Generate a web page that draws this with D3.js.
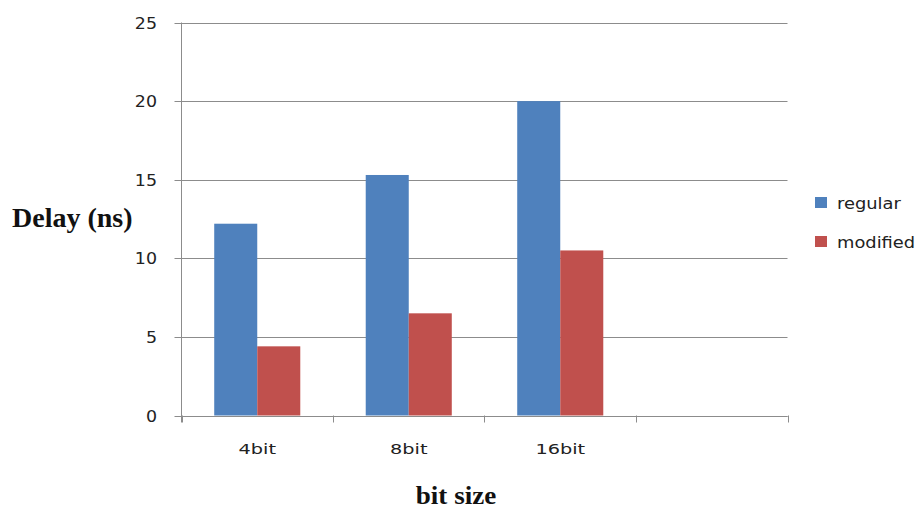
<!DOCTYPE html>
<html><head><meta charset="utf-8">
<script src="https://cdn.jsdelivr.net/npm/d3@7"></script>
<style>body{margin:0;background:#fff}svg{display:block}</style>
</head><body>
<svg id="c" width="920" height="511"></svg>
<script>
const categories = ["4bit", "8bit", "16bit", ""];
const seriesNames = ["regular", "modified"];
const regular = [12.2, 15.3, 20.0, null];
const modified = [4.4, 6.5, 10.5, null];
const yTicks = [0, 5, 10, 15, 20, 25];
const colors = ["#4F81BD", "#C0504D"];

const svg = d3.select("#c");
const L = 181.5, R = 787.5, T = 22.5, B = 415.5;
const x = d3.scaleBand().domain(categories).range([L, R]).paddingInner(0.432).paddingOuter(0.216);
const xs = d3.scaleBand().domain(seriesNames).range([0, x.bandwidth()]);
const y = d3.scaleLinear().domain([0, 25]).range([B, T]);

function stretch(sel, f) {
  sel.each(function () {
    const n = this.getComputedTextLength();
    if (n > 0) d3.select(this).attr("textLength", n * f).attr("lengthAdjust", "spacingAndGlyphs");
  });
}

// grid lines
svg.append("g").selectAll("line").data(yTicks).join("line")
  .attr("x1", L - 7).attr("x2", R)
  .attr("y1", d => Math.round(y(d)) + 0.5).attr("y2", d => Math.round(y(d)) + 0.5)
  .attr("stroke", "#8c8c8c").attr("stroke-width", 1);

// bars
const series = [regular, modified];
series.forEach((vals, si) => {
  svg.append("g").selectAll("rect").data(categories.map((c, i) => ({c, v: vals[i]})).filter(d => d.v != null))
    .join("rect")
    .attr("x", d => x(d.c) + xs(seriesNames[si]))
    .attr("width", xs.bandwidth())
    .attr("y", d => y(d.v))
    .attr("height", d => y(0) - y(d.v))
    .attr("fill", colors[si]);
});

// y axis line
svg.append("line").attr("x1", L).attr("x2", L).attr("y1", T).attr("y2", B + 7)
  .attr("stroke", "#8c8c8c");
// x axis line
svg.append("line").attr("x1", L).attr("x2", R).attr("y1", Math.round(y(0)) + 0.5).attr("y2", Math.round(y(0)) + 0.5)
  .attr("stroke", "#8c8c8c");
// x ticks at category boundaries
const bounds = categories.map(c => x(c) - x.step() * x.paddingOuter()).concat([R]);
svg.append("g").selectAll("line").data(bounds).join("line")
  .attr("x1", d => Math.round(d) + 0.5).attr("x2", d => Math.round(d) + 0.5)
  .attr("y1", B).attr("y2", B + 7).attr("stroke", "#8c8c8c");

// y tick labels
svg.append("g").selectAll("text").data(yTicks).join("text")
  .attr("x", 157).attr("y", d => y(d) + 6)
  .attr("text-anchor", "end")
  .attr("font-family", "DejaVu Sans, Verdana, sans-serif").attr("font-size", 15)
  .attr("fill", "#222").text(d => d).call(stretch, 1.16);

// x labels
svg.append("g").selectAll("text").data(categories).join("text")
  .attr("x", d => x(d) + x.bandwidth() / 2).attr("y", 454)
  .attr("text-anchor", "middle")
  .attr("font-family", "DejaVu Sans, Verdana, sans-serif").attr("font-size", 14.5)
  .attr("fill", "#222").text(d => d).call(stretch, 1.33);

// axis titles
svg.append("text").attr("x", 12).attr("y", 227)
  .attr("font-family", "Liberation Serif, Times New Roman, serif").attr("font-weight", "bold")
  .attr("font-size", 28).attr("fill", "#111").text("Delay (ns)");
svg.append("text").attr("x", 456).attr("y", 504).attr("text-anchor", "middle")
  .attr("font-family", "Liberation Serif, Times New Roman, serif").attr("font-weight", "bold")
  .attr("font-size", 26).attr("fill", "#111").text("bit size").call(stretch, 1.04);

// legend
const leg = svg.append("g");
seriesNames.forEach((n, i) => {
  const yy = 197 + i * 39;
  leg.append("rect").attr("x", 815).attr("y", yy).attr("width", 12).attr("height", 11).attr("fill", colors[i]);
  leg.append("text").attr("x", 837).attr("y", yy + 11.5)
    .attr("font-family", "DejaVu Sans, Verdana, sans-serif").attr("font-size", 15)
    .attr("fill", "#222").text(n).call(stretch, 1.19);
});
</script>
</body></html>
